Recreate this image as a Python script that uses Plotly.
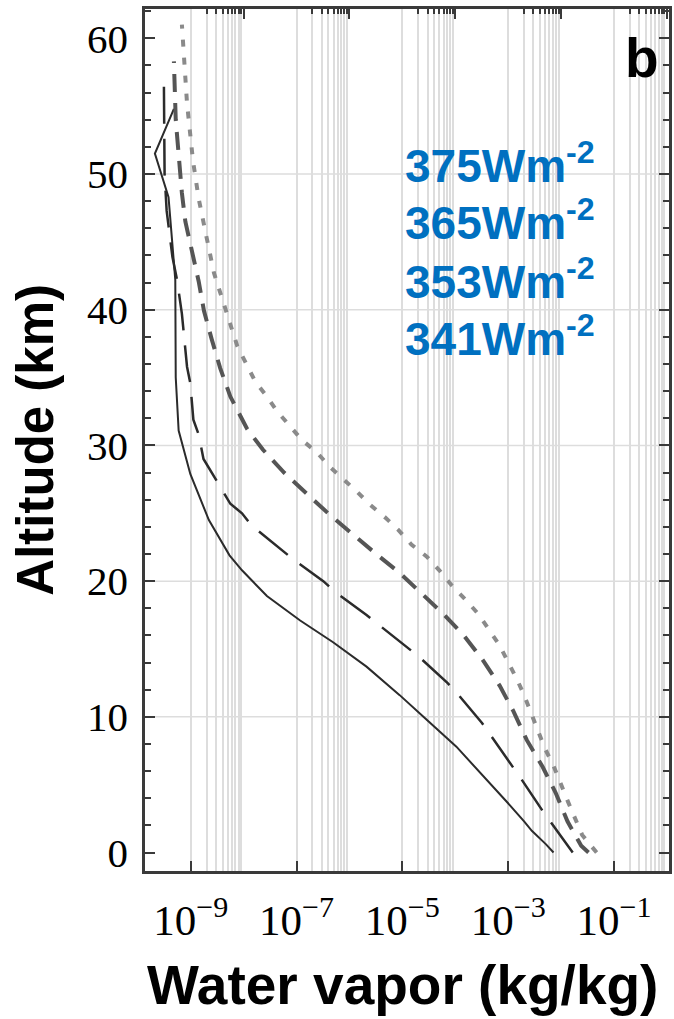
import plotly.graph_objects as go

# Altitude grid (km) and water-vapour mixing ratios (kg/kg) for each surface flux case
alt_341 = [0, 0.6, 1.6, 2.3, 3.5, 5.7, 7.8, 10.0, 11.6, 13.7, 15.5, 17.1, 18.9, 20.8,
           21.9, 24.5, 27.9, 31.1, 35.0, 42.2, 48.3, 51.5, 54.8]
q_341 = [7.2e-3, 5.2e-3, 2.8e-3, 2.0e-3, 1.07e-3, 3.3e-4, 1.05e-4, 2.5e-5, 8.9e-6,
         2.1e-6, 4.9e-7, 1.17e-7, 2.75e-8, 9.3e-9, 5.4e-9, 2.2e-9, 9.8e-10, 5.9e-10,
         5.2e-10, 5.1e-10, 3.8e-10, 2.1e-10, 4.8e-10]

alt_353 = [0, 2.15, 3.0, 5.4, 6.3, 8.55, 9.55, 11.7, 12.5, 14.4, 15.1, 16.85, 17.5,
           19.2, 20.0, 21.6, 22.3, 24.1, 25.0, 25.7, 27.2, 28.2, 29.0, 30.8, 31.9,
           34.6, 35.8, 39.7, 42.2, 43.9, 47.3, 50.0, 57.2]
q_353 = [1.66e-2, 6.6e-3, 4.6e-3, 1.78e-3, 1.23e-3, 4.7e-4, 3.2e-4, 1.1e-4, 7.1e-5,
         2.1e-5, 1.26e-5, 3.4e-6, 2.1e-6, 5.4e-7, 3.2e-7, 8.7e-8, 5.2e-8, 1.41e-8,
         9.3e-9, 5.6e-9, 3.3e-9, 2.3e-9, 1.74e-9, 1.41e-9, 1.12e-9, 9.8e-10, 8.5e-10,
         6.8e-10, 5.5e-10, 4.5e-10, 3.5e-10, 3.2e-10, 3.1e-10]

alt_365 = [0, 0.5, 2.3, 4.4, 6.3, 8.3, 10.4, 12.3, 14.2, 16.0, 17.6, 19.05, 20.6,
           22.0, 23.5, 24.9, 26.5, 28.0, 29.7, 31.2, 33.6, 35.7, 37.8, 39.9, 42.1,
           44.3, 46.5, 48.6, 51.2, 54.0, 58.3]
q_365 = [3.3e-2, 2.4e-2, 1.32e-2, 7.9e-3, 4.5e-3, 2.24e-3, 1.26e-3, 6.9e-4, 3.3e-4,
         1.45e-4, 5.9e-5, 2.3e-5, 8.9e-6, 3.2e-6, 1.1e-6, 4.2e-7, 1.51e-7, 5.8e-8,
         2.3e-8, 1.17e-8, 5.6e-9, 3.6e-9, 2.5e-9, 1.78e-9, 1.41e-9, 1.07e-9, 7.9e-10,
         6.8e-10, 6.0e-10, 5.2e-10, 4.8e-10]

alt_375 = [0, 1.3, 3.75, 6.45, 7.7, 9.0, 10.3, 11.6, 12.8, 14.1, 15.3, 16.5, 17.6,
           18.7, 19.7, 20.8, 21.8, 22.7, 23.8, 24.7, 25.6, 26.6, 27.5, 28.4, 29.5,
           30.4, 31.4, 32.5, 33.6, 34.7, 37.3, 40.0, 42.7, 45.5, 48.2, 51.0, 55.2, 61.0]
q_375 = [4.7e-2, 2.5e-2, 1.35e-2, 7.1e-3, 4.9e-3, 3.6e-3, 2.75e-3, 2.0e-3, 1.45e-3,
         9.8e-4, 6.8e-4, 4.2e-4, 2.7e-4, 1.51e-4, 8.5e-5, 5.0e-5, 2.9e-5, 1.48e-5,
         8.3e-6, 4.7e-6, 2.5e-6, 1.38e-6, 7.6e-7, 4.3e-7, 2.4e-7, 1.26e-7, 7.6e-8,
         4.3e-8, 2.75e-8, 1.66e-8, 7.6e-9, 4.5e-9, 2.75e-9, 1.95e-9, 1.41e-9, 1.1e-9,
         8.5e-10, 6.8e-10]

flux_labels = ["375Wm<sup>-2</sup>", "365Wm<sup>-2</sup>",
               "353Wm<sup>-2</sup>", "341Wm<sup>-2</sup>"]

x_tick_vals = [1e-9, 1e-7, 1e-5, 1e-3, 1e-1]
x_tick_text = ["10<sup>\u22129</sup>", "10<sup>\u22127</sup>", "10<sup>\u22125</sup>",
               "10<sup>\u22123</sup>", "10<sup>\u22121</sup>"]
top_tick_vals = [1e-8, 1e-6, 1e-4, 1e-2, 1e0]
y_tick_vals = [0, 10, 20, 30, 40, 50, 60]
y_grid_vals = [10, 20, 30, 40, 50]

# fine log grid: 1..9 x 10^odd decades
odd_decades = [1e-9, 1e-7, 1e-5, 1e-3, 1e-1]
fine_grid = [k * d for d in odd_decades for k in range(2, 10)]

W, H = 674, 1019
ML, MR, MT, MB = 145, 2, 9, 148
PW, PH = W - ML - MR, H - MT - MB


def px_x(px):
    return (px - ML) / PW


def px_y(py):
    return (H - MB - py) / PH


fig = go.Figure()

fig.add_trace(go.Scatter(x=q_341, y=alt_341, mode="lines", name="341",
                         line=dict(color="#2b2b2b", width=2)))
fig.add_trace(go.Scatter(x=q_353, y=alt_353, mode="lines", name="353",
                         line=dict(color="#2b2b2b", width=2.5, dash="37px,15px")))
fig.add_trace(go.Scatter(x=q_365, y=alt_365, mode="lines", name="365",
                         line=dict(color="#555555", width=4, dash="18px,11px")))
fig.add_trace(go.Scatter(x=q_375, y=alt_375, mode="lines", name="375",
                         line=dict(color="#8a8a8a", width=4, dash="7px,11px")))
# carrier for the top frame axis
fig.add_trace(go.Scatter(x=[1e-5], y=[-10], xaxis="x2", mode="markers",
                         marker=dict(opacity=0), hoverinfo="skip", showlegend=False))

grid_col = "#dddddd"
frame_col = "#3a3a3a"
xr = [-9.865, 0.04]
yr = [-1.36, 62.16]

shapes = [dict(type="line", xref="paper", x0=0, x1=1, yref="y", y0=v, y1=v,
               line=dict(color=grid_col, width=1.5), layer="below")
          for v in y_grid_vals]

annotations = []
for lbl, cy in zip(flux_labels, [163, 220, 279, 336]):
    annotations.append(dict(text="<b>" + lbl + "</b>", x=px_x(404), y=px_y(cy),
                            xref="paper", yref="paper", xanchor="left", yanchor="middle",
                            showarrow=False,
                            font=dict(family="Liberation Sans", size=46, color="#0070C0")))
annotations.append(dict(text="<b>b</b>", x=px_x(645), y=px_y(58), xref="paper",
                        yref="paper", xanchor="center", yanchor="middle", showarrow=False,
                        font=dict(family="Liberation Sans", size=55, color="black")))
annotations.append(dict(text="<b>Altitude (km)</b>", x=px_x(34), y=px_y(440),
                        xref="paper", yref="paper", xanchor="center", yanchor="middle",
                        textangle=-90, showarrow=False,
                        font=dict(family="Liberation Sans", size=51, color="black")))
annotations.append(dict(text="<b>Water vapor (kg/kg)</b>", x=px_x(404), y=px_y(985),
                        xref="paper", yref="paper", xanchor="center", yanchor="middle",
                        showarrow=False,
                        font=dict(family="Liberation Sans", size=55, color="black")))

fig.update_layout(
    width=W, height=H,
    margin=dict(l=ML, r=MR, t=MT, b=MB, pad=0),
    paper_bgcolor="white", plot_bgcolor="white",
    showlegend=False,
    shapes=shapes,
    annotations=annotations,
    xaxis=dict(
        type="log", range=xr, showline=True, linecolor=frame_col, linewidth=2.5,
        mirror=True, tickmode="array", tickvals=x_tick_vals, ticktext=x_tick_text,
        ticks="inside", ticklen=10, tickwidth=2, tickcolor=frame_col,
        tickfont=dict(family="Liberation Serif", size=43, color="black"),
        ticklabelstandoff=10,
        showgrid=True, gridcolor=grid_col, gridwidth=1.5, zeroline=False,
        minor=dict(tickmode="array", tickvals=fine_grid, showgrid=True,
                   gridcolor=grid_col, gridwidth=1.5, ticks=""),
    ),
    xaxis2=dict(
        type="log", range=xr, overlaying="x", side="top", anchor="y",
        showline=False, tickmode="array", tickvals=top_tick_vals,
        ticks="inside", ticklen=10, tickwidth=2, tickcolor=frame_col,
        showticklabels=False, showgrid=False, zeroline=False,
        minor=dict(tickmode="array", tickvals=fine_grid, ticks="inside",
                   ticklen=5, tickwidth=1.5, tickcolor=frame_col, showgrid=False),
    ),
    yaxis=dict(
        range=yr, showline=True, linecolor=frame_col, linewidth=2.5, mirror="ticks",
        tickmode="array", tickvals=y_tick_vals, ticks="inside", ticklen=10,
        tickwidth=2, tickcolor=frame_col, showgrid=False, zeroline=False,
        tickfont=dict(family="Liberation Serif", size=41, color="black"),
        ticklabelstandoff=6,
        minor=dict(dtick=2, tick0=0, ticks="inside", ticklen=6, tickwidth=2,
                   tickcolor=frame_col, showgrid=False),
    ),
)

fig.write_html("out.html")
